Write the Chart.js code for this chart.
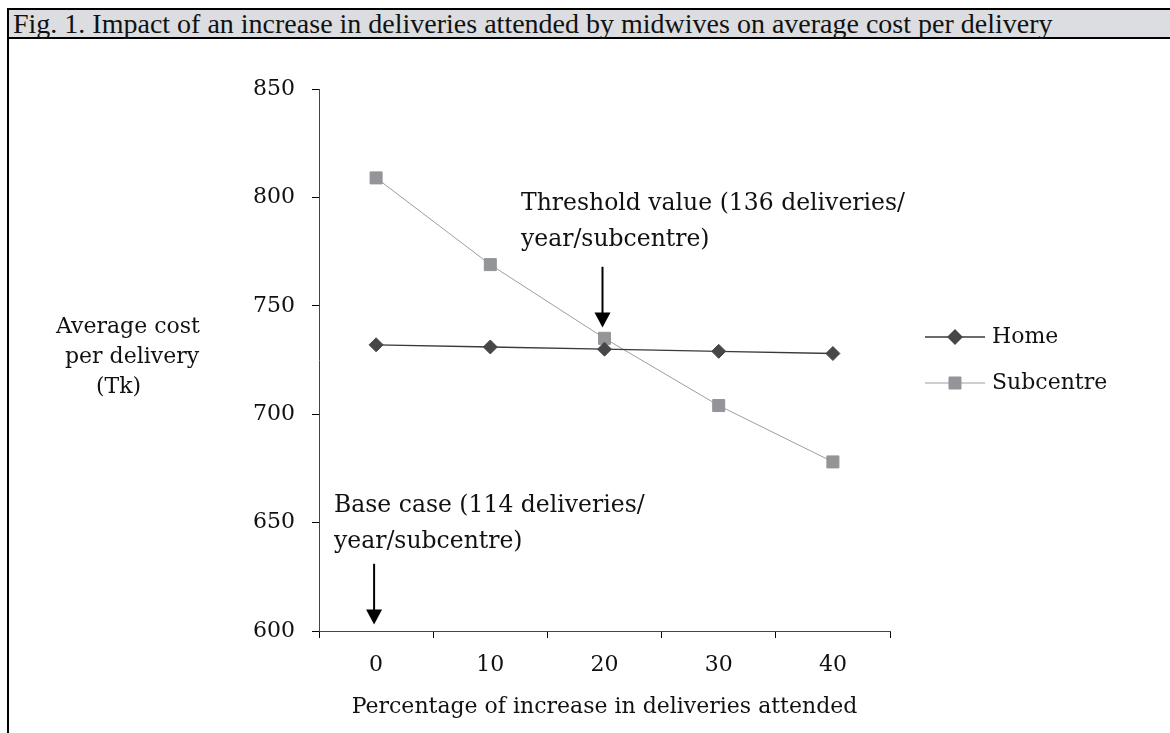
<!DOCTYPE html>
<html>
<head>
<meta charset="utf-8">
<script src="https://cdn.jsdelivr.net/npm/chart.js@4.4.1/dist/chart.umd.min.js"></script>
<style>
    html, body { margin: 0; padding: 0; background: #fff; }
    body { width: 1170px; height: 733px; position: relative; overflow: hidden; }
    .frame { position: absolute; left: 7px; top: 8px; right: -5px; bottom: -5px; border-left: 2px solid #000; }
    .titlebar {
        position: absolute; left: 7px; top: 8px; right: -5px; height: 27px;
        background: #dcdde0; border-top: 2px solid #000; border-bottom: 2px solid #000; border-left: 2px solid #000;
        font: 28px "Liberation Serif", serif; line-height: 28px; padding-left: 4px; white-space: nowrap; color: #111;
    }
    #chart { position: absolute; left: 0; top: 0; }
</style>
</head>
<body>
<div class="frame"></div>
<div class="titlebar">Fig. 1. Impact of an increase in deliveries attended by midwives on average cost per delivery</div>
<canvas id="chart" width="1170" height="733"></canvas>
<script>
const categories = ["0", "10", "20", "30", "40"];
const homeCost = [732, 731, 730, 729, 728];
const subcentreCost = [809, 769, 735, 704, 678];
const yTicks = [600, 650, 700, 750, 800, 850];
const seriesNames = ["Home", "Subcentre"];

const xTitle = "Percentage of increase in deliveries attended";
const yTitle = ["Average cost", "per delivery", "(Tk)"];

const font = "DejaVu Serif";
const colors = {
    home: "#474747",
    homeLine: "#3a3a3a",
    subcentre: "#939598",
    subcentreLine: "#9d9d9d",
    text: "#111",
};

// annotation arrows are placed on the category / value scales
const notes = [
    { lines: ["Threshold value (136 deliveries/", "year/subcentre)"], textX: 521, textY: 210, cat: "20", from: 768, to: 740 },
    { lines: ["Base case (114 deliveries/", "year/subcentre)"], textX: 334, textY: 512, cat: "0", from: 631, to: 603 },
];

const drawArrow = (ctx, x, y1, y2) => {
    ctx.save();
    ctx.strokeStyle = "#000";
    ctx.fillStyle = "#000";
    ctx.lineWidth = 2;
    ctx.beginPath();
    ctx.moveTo(x, y1);
    ctx.lineTo(x, y2 - 12);
    ctx.stroke();
    ctx.beginPath();
    ctx.moveTo(x - 8, y2 - 15);
    ctx.lineTo(x + 8, y2 - 15);
    ctx.lineTo(x, y2);
    ctx.closePath();
    ctx.fill();
    ctx.restore();
};

const extrasPlugin = {
    id: "extras",
    afterDraw(chart) {
        const ctx = chart.ctx;
        const xs = chart.scales.x;
        const ys = chart.scales.y;
        ctx.save();
        ctx.fillStyle = colors.text;
        ctx.font = `22px "${font}"`;
        ctx.textBaseline = "middle";

        // y axis title, three lines like the original
        const yOffsets = [56, 65, 96];
        yTitle.forEach((line, i) => {
            ctx.textAlign = "left";
            ctx.fillText(line, yOffsets[i], 327 + i * 30);
        });

        // x axis title
        ctx.textAlign = "center";
        ctx.fillText(xTitle, (chart.chartArea.left + chart.chartArea.right) / 2, 707);

        // annotations
        ctx.font = `23.5px "${font}"`;
        ctx.textAlign = "left";
        ctx.textBaseline = "alphabetic";
        notes.forEach((n) => {
            n.lines.forEach((line, i) => {
                ctx.fillText(line, n.textX, n.textY + i * 36);
            });
            const x = xs.getPixelForValue(categories.indexOf(n.cat));
            drawArrow(ctx, x - 2, ys.getPixelForValue(n.from), ys.getPixelForValue(n.to));
        });

        // legend
        ctx.font = `22px "${font}"`;
        ctx.textBaseline = "middle";
        chart.data.datasets.forEach((ds, i) => {
            const y = 337 + i * 46;
            ctx.strokeStyle = ds.borderColor;
            ctx.lineWidth = ds.borderWidth;
            ctx.beginPath();
            ctx.moveTo(925, y);
            ctx.lineTo(985, y);
            ctx.stroke();
            ctx.fillStyle = ds.pointBackgroundColor;
            ctx.strokeStyle = ds.pointBackgroundColor;
            Chart.helpers.drawPoint(ctx, {
                pointStyle: ds.pointStyle,
                radius: ds.pointRadius,
                borderWidth: 1,
                rotation: 0,
            }, 955, y);
            ctx.fillStyle = colors.text;
            ctx.fillText(ds.label, 992, y);
        });
        ctx.restore();
    },
};

new Chart(document.getElementById("chart"), {
    type: "line",
    data: {
        labels: categories,
        datasets: [
            {
                label: seriesNames[0],
                data: homeCost,
                borderColor: colors.homeLine,
                borderWidth: 1.3,
                pointStyle: "rectRot",
                pointRadius: 7,
                pointBackgroundColor: colors.home,
                pointBorderColor: colors.home,
                pointBorderWidth: 1,
                tension: 0,
            },
            {
                label: seriesNames[1],
                data: subcentreCost,
                borderColor: colors.subcentreLine,
                borderWidth: 1,
                pointStyle: "rect",
                pointRadius: 8.5,
                pointBackgroundColor: colors.subcentre,
                pointBorderColor: colors.subcentre,
                pointBorderWidth: 1,
                tension: 0,
            },
        ],
    },
    options: {
        responsive: false,
        animation: false,
        devicePixelRatio: 1,
        layout: { padding: { left: 0, top: 89, right: 280, bottom: 22 } },
        plugins: { legend: { display: false }, tooltip: { enabled: false } },
        scales: {
            x: {
                type: "category",
                offset: true,
                grid: { offset: true, drawOnChartArea: false, drawTicks: true, tickLength: 7, color: "#000" },
                border: { display: true, color: "#444", width: 1 },
                ticks: { font: { family: font, size: 22 }, color: colors.text, padding: 14, maxRotation: 0 },
                afterFit(scale) { scale.height = 80; },
            },
            y: {
                min: 600,
                max: 850,
                afterBuildTicks(scale) { scale.ticks = yTicks.map((v) => ({ value: v })); },
                grid: { drawOnChartArea: false, drawTicks: true, tickLength: 7, color: "#000" },
                border: { display: true, color: "#444", width: 1 },
                ticks: { font: { family: font, size: 22 }, color: colors.text, padding: 17 },
                afterFit(scale) { scale.width = 319; },
            },
        },
    },
    plugins: [extrasPlugin],
});
</script>
</body>
</html>
